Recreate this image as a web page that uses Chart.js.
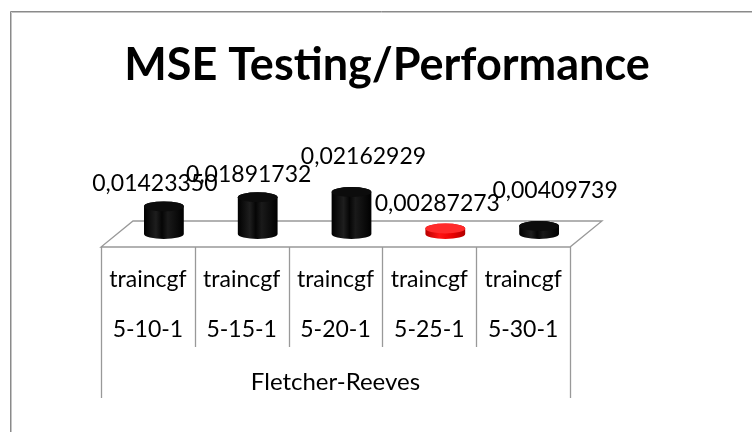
<!DOCTYPE html>
<html>
<head>
<meta charset="utf-8">
<script src="https://cdn.jsdelivr.net/npm/chart.js@4/dist/chart.umd.min.js"></script>
<style>
  html, body { margin: 0; padding: 0; background: #ffffff; }
  #wrap { position: relative; width: 752px; height: 432px; }
</style>
</head>
<body>
<div id="wrap"><canvas id="c" width="752" height="432"></canvas></div>
<script>
// ---- data ----
const chartTitle = 'MSE Testing/Performance';
const groupLabel = 'Fletcher-Reeves';
const algorithm = 'traincgf';
const architectures = ['5-10-1', '5-15-1', '5-20-1', '5-25-1', '5-30-1'];
const mseValues = [0.01423350, 0.01891732, 0.02162929, 0.00287273, 0.00409739];
const barColors = ['#000000', '#000000', '#000000', '#ff0000', '#000000'];

// ---- style constants (not data) ----
const FONT = 'Lato';
const DEPTH_X = 32, DEPTH_Y = -26;           // 3D floor depth
const labelNudge = [[-9, -23], [-9, -23], [12, -35], [-8, -25], [16, -35]];

const catLabels = architectures.map(a => [algorithm, a]);
const fmt = v => v.toFixed(8).replace('.', ',');

const cyl3d = {
  id: 'cyl3d',
  beforeDraw(chart) {
    const ctx = chart.ctx;
    ctx.save();
    ctx.strokeStyle = '#8a8a8a';
    ctx.lineWidth = 1;
    ctx.beginPath();
    ctx.moveTo(10.5, 432); ctx.lineTo(10.5, 11.5); ctx.lineTo(752, 11.5);
    ctx.stroke();
    ctx.strokeStyle = '#c4c4c4';
    ctx.beginPath();
    ctx.moveTo(11.5, 432); ctx.lineTo(11.5, 12.5); ctx.lineTo(752, 12.5);
    ctx.stroke();
    ctx.restore();
  },
  beforeDatasetsDraw(chart) {
    const ctx = chart.ctx;
    const {left: L, right: R, bottom: B} = chart.chartArea;
    const xs = chart.scales.x;
    ctx.save();
    ctx.strokeStyle = '#999999';
    ctx.lineWidth = 1.3;
    // floor
    ctx.beginPath();
    ctx.moveTo(L, B); ctx.lineTo(R, B);
    ctx.lineTo(R + DEPTH_X, B + DEPTH_Y);
    ctx.lineTo(L + DEPTH_X, B + DEPTH_Y);
    ctx.closePath();
    ctx.stroke();
    // category separators
    const n = architectures.length;
    for (let i = 0; i <= n; i++) {
      const x = Math.round(xs.getPixelForValue(i - 0.5)) + 0.5;
      const outer = (i === 0 || i === n);
      ctx.beginPath();
      ctx.moveTo(x, B);
      ctx.lineTo(x, B + (outer ? 151 : 100));
      ctx.stroke();
    }
    ctx.restore();
  },
  beforeDatasetDraw() { return false; },
  afterDatasetsDraw(chart) {
    const ctx = chart.ctx;
    const meta = chart.getDatasetMeta(0);
    const ds = chart.data.datasets[0];
    meta.data.forEach((el, i) => {
      const cx = el.x + DEPTH_X / 2;
      const top = el.y + DEPTH_Y / 2;
      const base = el.base + DEPTH_Y / 2;
      const rx = el.width / 2, ry = 5;
      const red = ds.backgroundColor[i] !== '#000000';
      const g = ctx.createLinearGradient(cx - rx, 0, cx + rx, 0);
      if (red) {
        g.addColorStop(0, '#b80000'); g.addColorStop(0.35, '#ff1414');
        g.addColorStop(0.7, '#e80000'); g.addColorStop(1, '#b00000');
      } else {
        g.addColorStop(0, '#000000'); g.addColorStop(0.3, '#1e1e1e');
        g.addColorStop(0.45, '#050505'); g.addColorStop(0.6, '#1a1a1a');
        g.addColorStop(1, '#000000');
      }
      ctx.save();
      ctx.fillStyle = g;
      ctx.beginPath();
      ctx.moveTo(cx - rx, top);
      ctx.lineTo(cx - rx, base);
      ctx.ellipse(cx, base, rx, ry, 0, Math.PI, 0, true);
      ctx.lineTo(cx + rx, top);
      ctx.ellipse(cx, top, rx, ry, 0, 0, Math.PI, true);
      ctx.closePath();
      ctx.fill();
      ctx.fillStyle = red ? '#ff2a2a' : '#0c0c0c';
      ctx.beginPath();
      ctx.ellipse(cx, top, rx, ry, 0, 0, Math.PI * 2);
      ctx.fill();
      // value label
      ctx.fillStyle = '#000000';
      ctx.font = '23px ' + FONT;
      ctx.textAlign = 'center';
      ctx.textBaseline = 'middle';
      const nd = labelNudge[i];
      ctx.fillText(fmt(ds.data[i]), cx + nd[0], top + nd[1]);
      ctx.restore();
    });
  }
};

new Chart(document.getElementById('c'), {
  type: 'bar',
  data: {
    labels: catLabels,
    datasets: [{
      label: 'MSE',
      data: mseValues,
      backgroundColor: barColors,
      categoryPercentage: 0.8,
      barPercentage: 0.53
    }]
  },
  options: {
    responsive: false,
    animation: false,
    layout: { padding: { left: 22, right: 0, top: 0, bottom: 0 } },
    plugins: {
      legend: { display: false },
      tooltip: { enabled: false },
      title: {
        display: true,
        text: chartTitle,
        color: '#000000',
        font: { family: FONT, size: 45, weight: 'bold', lineHeight: 1.2 },
        padding: { top: 38, bottom: 58 }
      }
    },
    scales: {
      x: {
        type: 'category',
        position: 'bottom',
        grid: { display: false },
        border: { display: false },
        ticks: {
          color: '#000000',
          font: { family: FONT, size: 23, lineHeight: 50 / 23 },
          padding: 0,
          maxRotation: 0,
          autoSkip: false
        },
        title: {
          display: true,
          text: groupLabel,
          color: '#000000',
          font: { family: FONT, size: 24, lineHeight: 1.2 },
          padding: { top: 0, bottom: 35 }
        },
        afterFit(s) { s.height = 185; }
      },
      y: {
        type: 'linear',
        position: 'left',
        min: 0,
        max: 0.05,
        grid: { display: false },
        border: { display: false },
        ticks: { display: false },
        afterFit(s) { s.width = 79; }
      },
      y2: {
        type: 'linear',
        position: 'right',
        grid: { display: false },
        border: { display: false },
        ticks: { display: false },
        afterFit(s) { s.width = 182; }
      }
    }
  },
  plugins: [cyl3d]
});
</script>
</body>
</html>
